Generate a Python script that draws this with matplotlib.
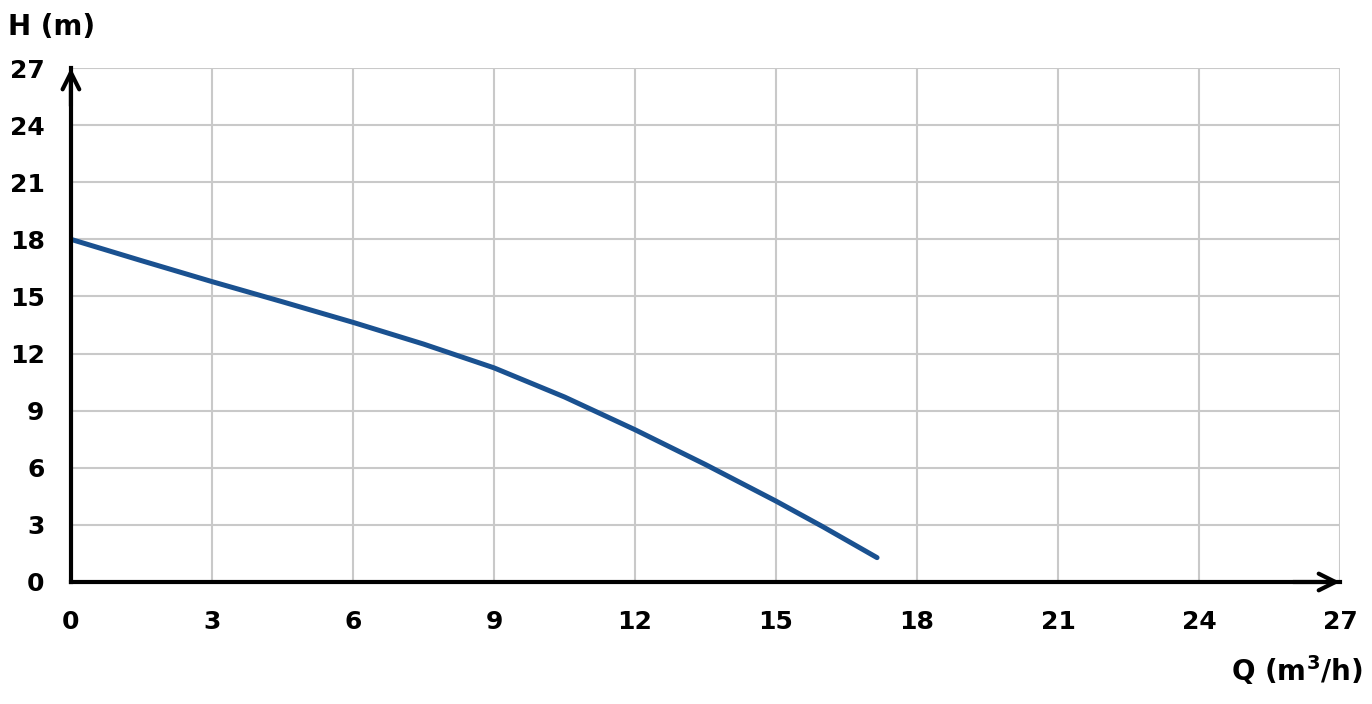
import matplotlib.pyplot as plt

# pump curve
flow = [0, 1.5, 3, 4.5, 6, 7.5, 9, 10.5, 12, 13.5, 15, 16, 17.15]
head = [18.0, 16.88, 15.78, 14.72, 13.64, 12.5, 11.25, 9.72, 8.0, 6.17, 4.25, 2.9, 1.28]

ticks = [0, 3, 6, 9, 12, 15, 18, 21, 24, 27]

FONT = "DejaVu Sans"
CURVE_COLOR = "#1a5190"

fig = plt.figure(figsize=(13.72, 7.04), dpi=100)
ax = fig.add_axes([0.0517, 0.1733, 0.925, 0.7301])

ax.plot(flow, head, color=CURVE_COLOR, linewidth=3.6, solid_capstyle="round",
        solid_joinstyle="round", zorder=3)

ax.set_xlim(0, 27)
ax.set_ylim(0, 27)
ax.set_xticks(ticks)
ax.set_yticks(ticks)
ax.set_xticklabels([str(t) for t in ticks], fontsize=18, fontweight="bold", family=FONT)
ax.set_yticklabels([str(t) for t in ticks], fontsize=18, fontweight="bold", family=FONT)
ax.tick_params(axis="x", length=0, pad=20)
ax.tick_params(axis="y", length=0, pad=19)

ax.grid(True, color="#c9c9c9", linewidth=1.5)
ax.set_axisbelow(True)

for side in ["top", "right"]:
    ax.spines[side].set_visible(False)
for side in ["left", "bottom"]:
    ax.spines[side].set_linewidth(3)
    ax.spines[side].set_color("black")
    ax.spines[side].set_zorder(4)
    ax.spines[side].set_capstyle("projecting")

# arrow heads on both axes
arrow = dict(arrowstyle="->,head_length=1.2,head_width=0.6", color="black", linewidth=3,
             shrinkA=0, shrinkB=0)
ax.annotate("", xy=(27, 0), xytext=(26, 0), arrowprops=arrow, annotation_clip=False, zorder=5)
ax.annotate("", xy=(0, 27), xytext=(0, 25), arrowprops=arrow, annotation_clip=False, zorder=5)

fig.text(0.006, 0.962, "H (m)", fontsize=20, fontweight="bold", family=FONT, ha="left", va="center")
fig.text(0.993, 0.048, "Q (m$^{\\mathbf{3}}$/h)", fontsize=20, fontweight="bold", family=FONT,
         ha="right", va="center")

fig.savefig("out.png", dpi=100, facecolor="white")
